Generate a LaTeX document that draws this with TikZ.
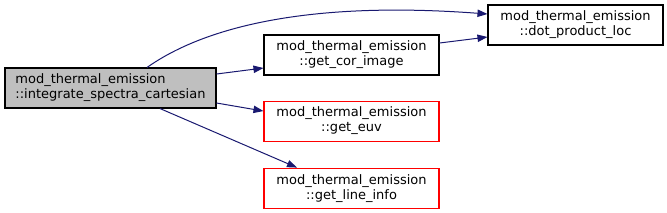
\documentclass[tikz,border=0pt]{standalone}
\usepackage{fontspec}
\setmainfont{DejaVu Sans}
\usepackage{xcolor}
\usetikzlibrary{arrows.meta,positioning}
\definecolor{callblue}{RGB}{25,25,112}
\definecolor{rootgrey}{RGB}{191,191,191}
\definecolor{truncred}{RGB}{255,0,0}

\begin{document}
\begin{tikzpicture}[
      x=0.75pt, y=-0.75pt,
      node distance=18.75pt and 36.75pt,
      fn/.style={rectangle, draw=black, line width=0.8pt, fill=white, align=center,
        minimum width=131.25pt, minimum height=30pt, inner sep=0pt,
        font=\fontsize{9.75pt}{11.25pt}\selectfont},
      rootfn/.style={fn, fill=rootgrey, align=left, minimum width=158.25pt},
      truncfn/.style={fn, draw=truncred},
      call/.style={-{Triangle[length=7.5pt, width=5.5pt]}, line width=0.75pt, draw=callblue},
    ]
    \useasboundingbox (0,0) rectangle (667,212);

    \node[rootfn] (integ) at (110.5,88) {mod\_thermal\_emission\\::integrate\_spectra\_cartesian};
    \node[fn] (getcor) at (351.5,55) {mod\_thermal\_emission\\::get\_cor\_image};
    \node[fn] (dotprod) at (575.5,25) {mod\_thermal\_emission\\::dot\_product\_loc};
    \node[truncfn, below=of getcor] (geteuv) {mod\_thermal\_emission\\::get\_euv};
    \node[truncfn, below=19.5pt of geteuv] (getline) {mod\_thermal\_emission\\::get\_line\_info};

    % calls
    \draw[call] ([xshift=27.4pt]integ.north) .. controls (200,30) and (300,0) .. ([yshift=8.25pt]dotprod.west);
    \draw[call] ([yshift=10.5pt]integ.east) -- ([yshift=-9.75pt]getcor.west);
    \draw[call] ([yshift=9pt]getcor.east) -- ([yshift=-9pt]dotprod.west);
    \draw[call] ([yshift=-11.25pt]integ.east) -- ([yshift=7.5pt]geteuv.west);
    \draw[call] ([xshift=37.1pt]integ.south) -- ([xshift=-40.9pt]getline.north);
  \end{tikzpicture}
\end{document}
